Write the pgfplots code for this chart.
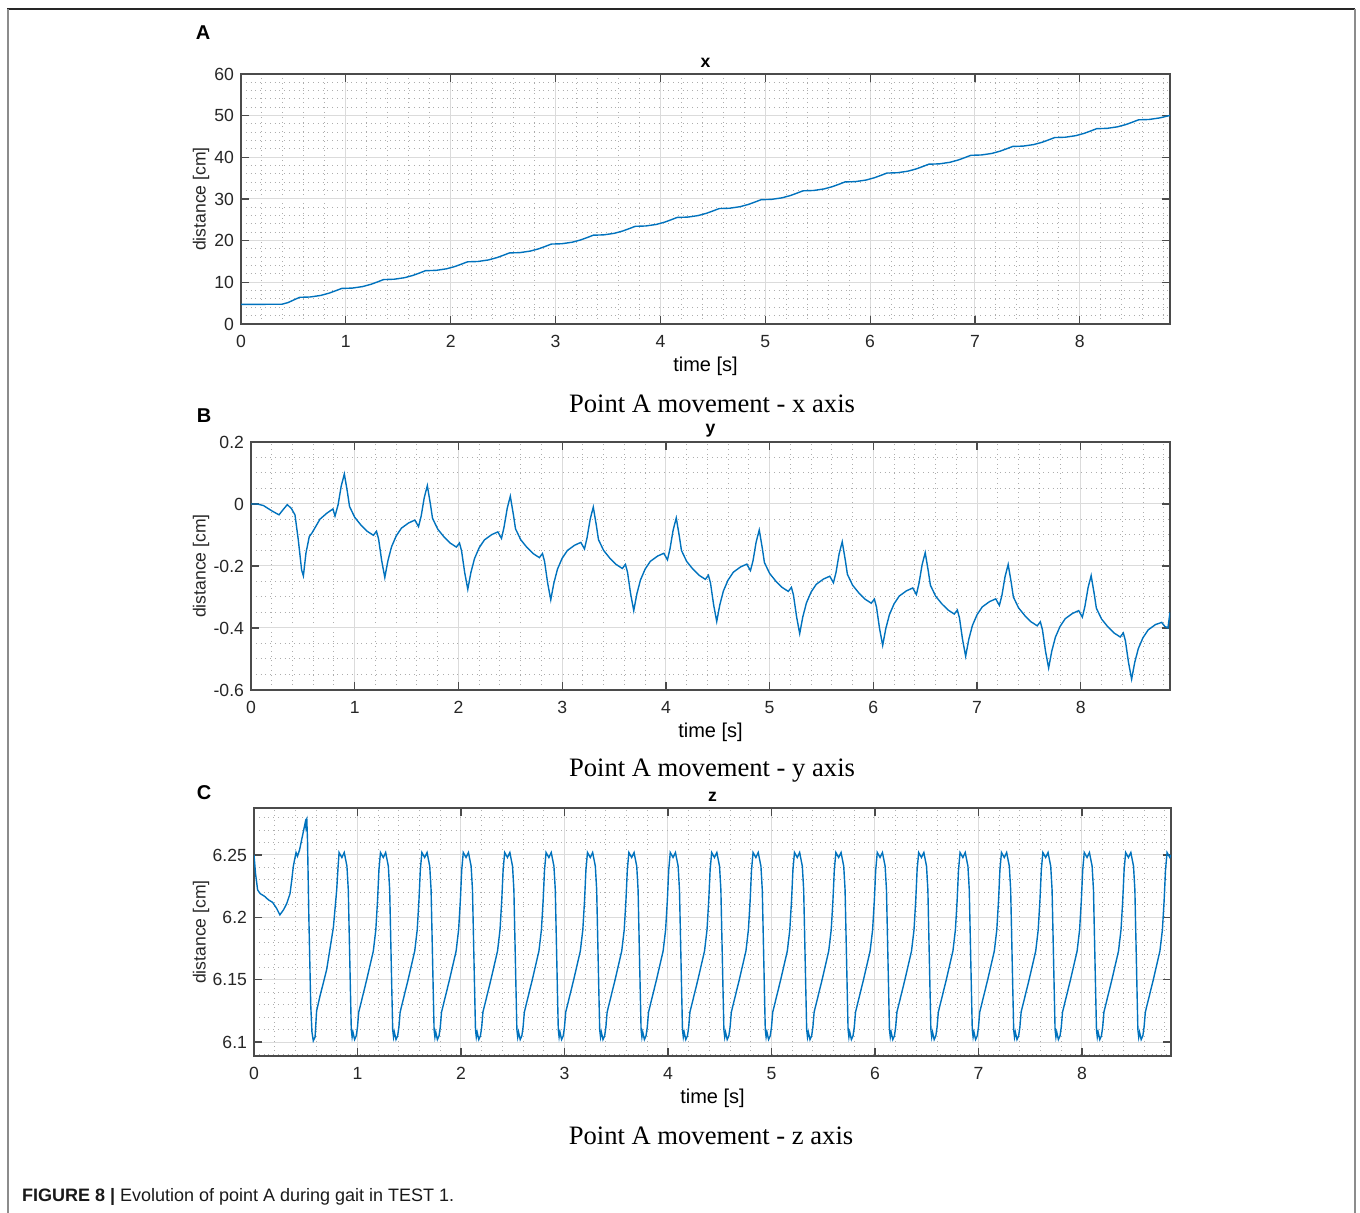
\documentclass[border=0pt]{standalone}
\usepackage{fontspec}
\setmainfont{Liberation Sans}
\newfontfamily\timesfont{Liberation Serif}
\usepackage{pgfplots}
\pgfplotsset{compat=1.18}
\definecolor{matblue}{RGB}{0,114,189}
\definecolor{axgray}{RGB}{75,75,75}
\definecolor{txtgray}{RGB}{38,38,38}

\pgfplotsset{
  matlab/.style={
    scale only axis,
    xmin=0, xmax=8.86,
    xtick={0,1,2,3,4,5,6,7,8},
    minor xtick={0.2,0.4,0.6,0.8,1.2,1.4,1.6,1.8,2.2,2.4,2.6,2.8,3.2,3.4,3.6,3.8,4.2,4.4,4.6,4.8,5.2,5.4,5.6,5.8,6.2,6.4,6.6,6.8,7.2,7.4,7.6,7.8,8.2,8.4,8.6,8.8},
    tick align=inside,
    xtick pos=both, ytick pos=both,
    xticklabel pos=lower, yticklabel pos=left,
    major tick length=4pt,
    minor tick length=0pt,
    axis line style={axgray, line width=0.6pt},
    tick style={axgray, line width=0.6pt},
    grid=both,
    major grid style={black!14, line width=0.5pt},
    minor grid style={black!32, dotted, line width=0.5pt},
    /pgf/number format/assume math mode=true,
    tick label style={font=\fontsize{8.8}{10}\selectfont, text=txtgray},
    xticklabel style={yshift=-2pt},
    label style={font=\fontsize{8.8}{10}\selectfont, text=txtgray},
    xlabel={time [s]},
    ylabel={distance [cm]},
    every axis x label/.style={at={(axis description cs:0.5,0)}, anchor=center, yshift=-21pt},
    every axis title/.style={at={(axis description cs:0.5,1)}, anchor=center, yshift=6.5pt,
                             font=\bfseries\fontsize{8.8}{10}\selectfont},
  },
  sig/.style={color=matblue, line width=0.7pt, mark=none},
}

\begin{document}
\begin{tikzpicture}
\path[use as bounding box] (0,0) rectangle (680pt,606.5pt);

% frame
\draw[black!85, line width=1pt] (3.5pt,602pt) -- (677.5pt,602pt);
\draw[black!45, line width=1pt] (3.75pt,602pt) -- (3.75pt,0pt);
\draw[black!45, line width=1pt] (677.5pt,602pt) -- (677.5pt,0pt);

% ---------------- A : x ----------------
\begin{axis}[matlab,
    at={(120.5pt,444.5pt)}, anchor=south west,
    width=464.5pt, height=125pt,
    ymin=0, ymax=60, ytick={0,10,20,30,40,50,60}, minor y tick num=4,
    title={x},
    title style={yshift=-1pt},
    ylabel style={at={(axis description cs:-0.0431,0.5)}, anchor=center, rotate=0},
]
\addplot[sig] coordinates {
(0,4.72)(0.20,4.72)(0.39,4.74)(0.45,5.15)(0.51,5.85)
(0.56,6.40)(0.66,6.48)(0.76,6.85)(0.84,7.40)(0.90,7.95)
(0.96,8.53)(1.06,8.61)(1.16,8.98)(1.24,9.53)(1.30,10.08)
(1.36,10.66)(1.46,10.74)(1.56,11.11)(1.64,11.66)(1.70,12.21)
(1.76,12.79)(1.86,12.87)(1.96,13.24)(2.04,13.79)(2.10,14.34)
(2.16,14.92)(2.26,15.00)(2.36,15.37)(2.44,15.92)(2.50,16.47)
(2.56,17.05)(2.66,17.13)(2.76,17.50)(2.84,18.05)(2.90,18.60)
(2.96,19.18)(3.06,19.26)(3.16,19.63)(3.24,20.18)(3.30,20.73)
(3.36,21.31)(3.46,21.39)(3.56,21.76)(3.64,22.31)(3.70,22.86)
(3.76,23.44)(3.86,23.52)(3.96,23.89)(4.04,24.44)(4.10,24.99)
(4.16,25.57)(4.26,25.65)(4.36,26.02)(4.44,26.57)(4.50,27.12)
(4.56,27.70)(4.66,27.78)(4.76,28.15)(4.84,28.70)(4.90,29.25)
(4.96,29.83)(5.06,29.91)(5.16,30.28)(5.24,30.83)(5.30,31.38)
(5.36,31.96)(5.46,32.04)(5.56,32.41)(5.64,32.96)(5.70,33.51)
(5.76,34.09)(5.86,34.17)(5.96,34.54)(6.04,35.09)(6.10,35.64)
(6.16,36.22)(6.26,36.30)(6.36,36.67)(6.44,37.22)(6.50,37.77)
(6.56,38.35)(6.66,38.43)(6.76,38.80)(6.84,39.35)(6.90,39.90)
(6.96,40.48)(7.06,40.56)(7.16,40.93)(7.24,41.48)(7.30,42.03)
(7.36,42.61)(7.46,42.69)(7.56,43.06)(7.64,43.61)(7.70,44.16)
(7.76,44.74)(7.86,44.82)(7.96,45.19)(8.04,45.74)(8.10,46.29)
(8.16,46.87)(8.26,46.95)(8.36,47.32)(8.44,47.87)(8.50,48.42)
(8.56,49.00)(8.66,49.08)(8.76,49.45)(8.86,50.05)
};
\end{axis}

% ---------------- B : y ----------------
\begin{axis}[matlab,
    at={(125.5pt,261.5pt)}, anchor=south west,
    width=459.5pt, height=124pt,
    ymin=-0.6, ymax=0.2, ytick={-0.6,-0.4,-0.2,0,0.2}, minor y tick num=3,
    yticklabel style={/pgf/number format/fixed},
    title={y},
    title style={yshift=-1pt},
    ylabel style={at={(axis description cs:-0.0544,0.5)}, anchor=center, rotate=0},
]
\addplot[sig] coordinates {
(0,0.000)(0.06,0.000)(0.12,-0.005)(0.20,-0.022)(0.27,-0.035)(0.31,-0.018)(0.35,-0.002)(0.39,-0.015)(0.424,-0.035)(0.456,-0.116)(0.488,-0.213)(0.505,-0.232)(0.53,-0.158)(0.562,-0.105)(0.585,-0.095)(0.62,-0.075)(0.665,-0.049)(0.73,-0.030)(0.79,-0.016)(0.81,-0.039)
(0.84,-0.002)(0.87,0.058)(0.90,0.097)(0.93,0.037)(0.95,-0.008)(1.00,-0.043)(1.06,-0.068)(1.12,-0.088)(1.18,-0.101)(1.21,-0.088)(1.23,-0.113)(1.26,-0.183)(1.29,-0.237)(1.32,-0.183)(1.355,-0.138)(1.40,-0.103)(1.45,-0.078)(1.52,-0.061)(1.58,-0.052)(1.615,-0.073)
(1.64,-0.040)(1.67,0.020)(1.70,0.059)(1.73,-0.001)(1.75,-0.046)(1.80,-0.081)(1.86,-0.106)(1.92,-0.126)(1.98,-0.139)(2.01,-0.126)(2.03,-0.151)(2.06,-0.221)(2.09,-0.275)(2.12,-0.221)(2.155,-0.176)(2.20,-0.141)(2.25,-0.116)(2.32,-0.099)(2.38,-0.090)(2.415,-0.111)
(2.44,-0.074)(2.47,-0.014)(2.50,0.025)(2.53,-0.035)(2.55,-0.080)(2.60,-0.115)(2.66,-0.140)(2.72,-0.160)(2.78,-0.173)(2.81,-0.160)(2.83,-0.185)(2.86,-0.255)(2.89,-0.309)(2.92,-0.255)(2.955,-0.210)(3.00,-0.175)(3.05,-0.150)(3.12,-0.133)(3.18,-0.124)(3.215,-0.145)
(3.24,-0.109)(3.27,-0.049)(3.30,-0.010)(3.33,-0.070)(3.35,-0.115)(3.40,-0.150)(3.46,-0.175)(3.52,-0.195)(3.58,-0.208)(3.61,-0.195)(3.63,-0.220)(3.66,-0.290)(3.69,-0.344)(3.72,-0.290)(3.755,-0.245)(3.80,-0.210)(3.85,-0.185)(3.92,-0.168)(3.98,-0.159)(4.015,-0.180)
(4.04,-0.144)(4.07,-0.084)(4.10,-0.045)(4.13,-0.105)(4.15,-0.150)(4.20,-0.185)(4.26,-0.210)(4.32,-0.230)(4.38,-0.243)(4.41,-0.230)(4.43,-0.255)(4.46,-0.325)(4.49,-0.379)(4.52,-0.325)(4.555,-0.280)(4.60,-0.245)(4.65,-0.220)(4.72,-0.203)(4.78,-0.194)(4.815,-0.215)
(4.84,-0.183)(4.87,-0.123)(4.90,-0.084)(4.93,-0.144)(4.95,-0.189)(5.00,-0.224)(5.06,-0.249)(5.12,-0.269)(5.18,-0.282)(5.21,-0.269)(5.23,-0.294)(5.26,-0.364)(5.29,-0.418)(5.32,-0.364)(5.355,-0.319)(5.40,-0.284)(5.45,-0.259)(5.52,-0.242)(5.58,-0.233)(5.615,-0.254)
(5.64,-0.221)(5.67,-0.161)(5.70,-0.122)(5.73,-0.182)(5.75,-0.227)(5.80,-0.262)(5.86,-0.287)(5.92,-0.307)(5.98,-0.320)(6.01,-0.307)(6.03,-0.332)(6.06,-0.402)(6.09,-0.456)(6.12,-0.402)(6.155,-0.357)(6.20,-0.322)(6.25,-0.297)(6.32,-0.280)(6.38,-0.271)(6.415,-0.292)
(6.44,-0.256)(6.47,-0.196)(6.50,-0.157)(6.53,-0.217)(6.55,-0.262)(6.60,-0.297)(6.66,-0.322)(6.72,-0.342)(6.78,-0.355)(6.81,-0.342)(6.83,-0.367)(6.86,-0.437)(6.89,-0.491)(6.92,-0.437)(6.955,-0.392)(7.00,-0.357)(7.05,-0.332)(7.12,-0.315)(7.18,-0.306)(7.215,-0.327)
(7.24,-0.294)(7.27,-0.234)(7.30,-0.195)(7.33,-0.255)(7.35,-0.300)(7.40,-0.335)(7.46,-0.360)(7.52,-0.380)(7.58,-0.393)(7.61,-0.380)(7.63,-0.405)(7.66,-0.475)(7.69,-0.529)(7.72,-0.475)(7.755,-0.430)(7.80,-0.395)(7.85,-0.370)(7.92,-0.353)(7.98,-0.344)(8.015,-0.365)
(8.04,-0.330)(8.07,-0.270)(8.10,-0.231)(8.13,-0.291)(8.15,-0.336)(8.20,-0.371)(8.26,-0.396)(8.32,-0.416)(8.38,-0.429)(8.41,-0.416)(8.43,-0.441)(8.46,-0.511)(8.49,-0.565)(8.52,-0.511)(8.555,-0.466)(8.60,-0.431)(8.65,-0.406)(8.72,-0.389)(8.78,-0.382)(8.81,-0.395)(8.84,-0.400)(8.86,-0.350)
};
\end{axis}

% ---------------- C : z ----------------
\begin{axis}[matlab,
    at={(127pt,78.5pt)}, anchor=south west,
    width=458.5pt, height=124pt,
    ymin=6.0888, ymax=6.2877, ytick={6.1,6.15,6.2,6.25},
    minor ytick={6.09,6.11,6.12,6.13,6.14,6.16,6.17,6.18,6.19,6.21,6.22,6.23,6.24,6.26,6.27,6.28},
    yticklabel style={/pgf/number format/fixed, /pgf/number format/precision=2},
    title={z},
    title style={yshift=-1pt},
    ylabel style={at={(axis description cs:-0.0578,0.5)}, anchor=center, rotate=0},
]
\addplot[sig] coordinates {
(0,6.250)(0.015,6.235)(0.035,6.222)(0.06,6.219)(0.10,6.217)(0.14,6.214)(0.18,6.212)(0.22,6.207)(0.25,6.202)(0.285,6.206)(0.316,6.211)(0.348,6.219)(0.365,6.230)(0.38,6.241)(0.406,6.252)(0.42,6.249)(0.44,6.254)(0.46,6.262)(0.48,6.270)(0.495,6.276)(0.50,6.273)(0.505,6.278)(0.51,6.279)(0.517,6.262)(0.53,6.200)(0.548,6.130)(0.56,6.108)(0.573,6.101)(0.59,6.104)(0.605,6.125)(0.638,6.137)(0.702,6.158)(0.767,6.192)(0.799,6.222)(0.812,6.240)
(0.822,6.252)(0.849,6.248)(0.872,6.252)(0.898,6.241)(0.911,6.222)(0.931,6.144)(0.940,6.110)(0.948,6.104)(0.956,6.108)(0.972,6.102)(0.988,6.105)(1.000,6.112)(1.012,6.124)(1.089,6.150)(1.153,6.173)(1.177,6.190)(1.194,6.214)(1.207,6.238)
(1.222,6.252)(1.249,6.248)(1.272,6.252)(1.298,6.241)(1.311,6.222)(1.331,6.144)(1.340,6.110)(1.348,6.104)(1.356,6.108)(1.372,6.102)(1.388,6.105)(1.400,6.112)(1.412,6.124)(1.489,6.150)(1.553,6.173)(1.577,6.190)(1.594,6.214)(1.607,6.238)
(1.622,6.252)(1.649,6.248)(1.672,6.252)(1.698,6.241)(1.711,6.222)(1.731,6.144)(1.740,6.110)(1.748,6.104)(1.756,6.108)(1.772,6.102)(1.788,6.105)(1.800,6.112)(1.812,6.124)(1.889,6.150)(1.953,6.173)(1.977,6.190)(1.994,6.214)(2.007,6.238)
(2.022,6.252)(2.049,6.248)(2.072,6.252)(2.098,6.241)(2.111,6.222)(2.131,6.144)(2.140,6.110)(2.148,6.104)(2.156,6.108)(2.172,6.102)(2.188,6.105)(2.200,6.112)(2.212,6.124)(2.289,6.150)(2.353,6.173)(2.377,6.190)(2.394,6.214)(2.407,6.238)
(2.422,6.252)(2.449,6.248)(2.472,6.252)(2.498,6.241)(2.511,6.222)(2.531,6.144)(2.540,6.110)(2.548,6.104)(2.556,6.108)(2.572,6.102)(2.588,6.105)(2.600,6.112)(2.612,6.124)(2.689,6.150)(2.753,6.173)(2.777,6.190)(2.794,6.214)(2.807,6.238)
(2.822,6.252)(2.849,6.248)(2.872,6.252)(2.898,6.241)(2.911,6.222)(2.931,6.144)(2.940,6.110)(2.948,6.104)(2.956,6.108)(2.972,6.102)(2.988,6.105)(3.000,6.112)(3.012,6.124)(3.089,6.150)(3.153,6.173)(3.177,6.190)(3.194,6.214)(3.207,6.238)
(3.222,6.252)(3.249,6.248)(3.272,6.252)(3.298,6.241)(3.311,6.222)(3.331,6.144)(3.340,6.110)(3.348,6.104)(3.356,6.108)(3.372,6.102)(3.388,6.105)(3.400,6.112)(3.412,6.124)(3.489,6.150)(3.553,6.173)(3.577,6.190)(3.594,6.214)(3.607,6.238)
(3.622,6.252)(3.649,6.248)(3.672,6.252)(3.698,6.241)(3.711,6.222)(3.731,6.144)(3.740,6.110)(3.748,6.104)(3.756,6.108)(3.772,6.102)(3.788,6.105)(3.800,6.112)(3.812,6.124)(3.889,6.150)(3.953,6.173)(3.977,6.190)(3.994,6.214)(4.007,6.238)
(4.022,6.252)(4.049,6.248)(4.072,6.252)(4.098,6.241)(4.111,6.222)(4.131,6.144)(4.140,6.110)(4.148,6.104)(4.156,6.108)(4.172,6.102)(4.188,6.105)(4.200,6.112)(4.212,6.124)(4.289,6.150)(4.353,6.173)(4.377,6.190)(4.394,6.214)(4.407,6.238)
(4.422,6.252)(4.449,6.248)(4.472,6.252)(4.498,6.241)(4.511,6.222)(4.531,6.144)(4.540,6.110)(4.548,6.104)(4.556,6.108)(4.572,6.102)(4.588,6.105)(4.600,6.112)(4.612,6.124)(4.689,6.150)(4.753,6.173)(4.777,6.190)(4.794,6.214)(4.807,6.238)
(4.822,6.252)(4.849,6.248)(4.872,6.252)(4.898,6.241)(4.911,6.222)(4.931,6.144)(4.940,6.110)(4.948,6.104)(4.956,6.108)(4.972,6.102)(4.988,6.105)(5.000,6.112)(5.012,6.124)(5.089,6.150)(5.153,6.173)(5.177,6.190)(5.194,6.214)(5.207,6.238)
(5.222,6.252)(5.249,6.248)(5.272,6.252)(5.298,6.241)(5.311,6.222)(5.331,6.144)(5.340,6.110)(5.348,6.104)(5.356,6.108)(5.372,6.102)(5.388,6.105)(5.400,6.112)(5.412,6.124)(5.489,6.150)(5.553,6.173)(5.577,6.190)(5.594,6.214)(5.607,6.238)
(5.622,6.252)(5.649,6.248)(5.672,6.252)(5.698,6.241)(5.711,6.222)(5.731,6.144)(5.740,6.110)(5.748,6.104)(5.756,6.108)(5.772,6.102)(5.788,6.105)(5.800,6.112)(5.812,6.124)(5.889,6.150)(5.953,6.173)(5.977,6.190)(5.994,6.214)(6.007,6.238)
(6.022,6.252)(6.049,6.248)(6.072,6.252)(6.098,6.241)(6.111,6.222)(6.131,6.144)(6.140,6.110)(6.148,6.104)(6.156,6.108)(6.172,6.102)(6.188,6.105)(6.200,6.112)(6.212,6.124)(6.289,6.150)(6.353,6.173)(6.377,6.190)(6.394,6.214)(6.407,6.238)
(6.422,6.252)(6.449,6.248)(6.472,6.252)(6.498,6.241)(6.511,6.222)(6.531,6.144)(6.540,6.110)(6.548,6.104)(6.556,6.108)(6.572,6.102)(6.588,6.105)(6.600,6.112)(6.612,6.124)(6.689,6.150)(6.753,6.173)(6.777,6.190)(6.794,6.214)(6.807,6.238)
(6.822,6.252)(6.849,6.248)(6.872,6.252)(6.898,6.241)(6.911,6.222)(6.931,6.144)(6.940,6.110)(6.948,6.104)(6.956,6.108)(6.972,6.102)(6.988,6.105)(7.000,6.112)(7.012,6.124)(7.089,6.150)(7.153,6.173)(7.177,6.190)(7.194,6.214)(7.207,6.238)
(7.222,6.252)(7.249,6.248)(7.272,6.252)(7.298,6.241)(7.311,6.222)(7.331,6.144)(7.340,6.110)(7.348,6.104)(7.356,6.108)(7.372,6.102)(7.388,6.105)(7.400,6.112)(7.412,6.124)(7.489,6.150)(7.553,6.173)(7.577,6.190)(7.594,6.214)(7.607,6.238)
(7.622,6.252)(7.649,6.248)(7.672,6.252)(7.698,6.241)(7.711,6.222)(7.731,6.144)(7.740,6.110)(7.748,6.104)(7.756,6.108)(7.772,6.102)(7.788,6.105)(7.800,6.112)(7.812,6.124)(7.889,6.150)(7.953,6.173)(7.977,6.190)(7.994,6.214)(8.007,6.238)
(8.022,6.252)(8.049,6.248)(8.072,6.252)(8.098,6.241)(8.111,6.222)(8.131,6.144)(8.140,6.110)(8.148,6.104)(8.156,6.108)(8.172,6.102)(8.188,6.105)(8.200,6.112)(8.212,6.124)(8.289,6.150)(8.353,6.173)(8.377,6.190)(8.394,6.214)(8.407,6.238)
(8.422,6.252)(8.449,6.248)(8.472,6.252)(8.498,6.241)(8.511,6.222)(8.531,6.144)(8.540,6.110)(8.548,6.104)(8.556,6.108)(8.572,6.102)(8.588,6.105)(8.600,6.112)(8.612,6.124)(8.689,6.150)(8.753,6.173)(8.777,6.190)(8.794,6.214)(8.807,6.238)
(8.822,6.252)(8.849,6.248)(8.86,6.250)
};
\end{axis}

% panel letters and sub-captions
\node[font=\bfseries\fontsize{10}{12}\selectfont] at (101.5pt,590pt) {A};
\node[font=\bfseries\fontsize{10}{12}\selectfont] at (102pt,398.5pt) {B};
\node[font=\bfseries\fontsize{10}{12}\selectfont] at (102pt,210pt) {C};
\node[font=\timesfont\fontsize{13.3}{15}\selectfont] at (356pt,404.5pt) {Point A movement - x axis};
\node[font=\timesfont\fontsize{13.3}{15}\selectfont] at (356pt,221pt) {Point A movement - y axis};
\node[font=\timesfont\fontsize{13.3}{15}\selectfont] at (355.5pt,38.5pt) {Point A movement - z axis};
\node[anchor=west, font=\fontsize{9}{11}\selectfont, text=black!90] at (7.5pt,8pt)
  {\textbf{FIGURE 8 |} Evolution of point A during gait in TEST 1.};
\end{tikzpicture}
\end{document}
